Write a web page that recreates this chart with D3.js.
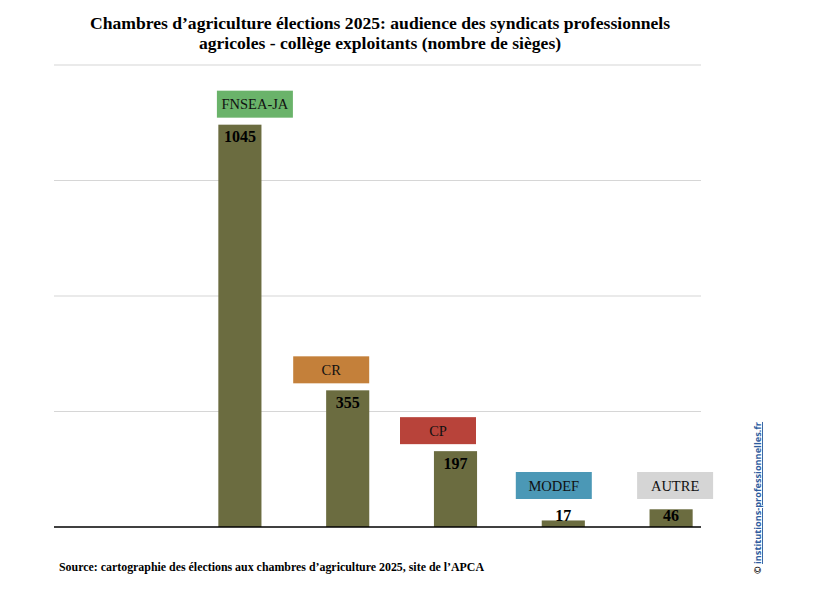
<!DOCTYPE html>
<html>
<head>
<meta charset="utf-8">
<script src="https://cdn.jsdelivr.net/npm/d3@7"></script>
<style>
  html, body { margin: 0; padding: 0; background: #fff; }
  svg { display: block; }
</style>
</head>
<body>
<svg id="chart" width="823" height="604"></svg>
<script>
// ---- data ----
const categories = ["FNSEA-JA", "CR", "CP", "MODEF", "AUTRE"];
const seats = [1045, 355, 197, 17, 46];
const yTicks = [0, 300, 600, 900, 1200];
const titleLines = [
  "Chambres d\u2019agriculture élections 2025: audience des syndicats professionnels",
  "agricoles - collège exploitants (nombre de sièges)"
];
const sourceText = "Source: cartographie des élections aux chambres d\u2019agriculture 2025, site de l\u2019APCA";

// ---- styling / layout ----
const labelColors = ["#6AB36A", "#C4803A", "#B8433A", "#4B98B6", "#D5D5D5"];
const labelShift = [15, -16.5, -17.5, -9.5, 4];
const barColor = "#6B6C40";
const serif = "'Liberation Serif', 'DejaVu Serif', serif";

const svg = d3.select("#chart");

const x = d3.scaleBand().domain(categories).range([186, 725]).paddingInner(0.6).paddingOuter(0.3);
const y = d3.scaleLinear().domain([0, 1200]).range([527, 65]);
const gridX0 = 54, gridX1 = 701;

// gridlines
svg.append("g").selectAll("line").data(yTicks.filter(d => d > 0)).join("line")
  .attr("x1", gridX0).attr("x2", gridX1)
  .attr("y1", d => y(d)).attr("y2", d => y(d))
  .attr("stroke", "#d6d6d6").attr("stroke-width", 1.2);

// bars
svg.append("g").selectAll("rect").data(seats).join("rect")
  .attr("x", (d, i) => x(categories[i]))
  .attr("width", x.bandwidth())
  .attr("y", d => y(d))
  .attr("height", d => y(0) - y(d))
  .attr("fill", barColor);

// baseline axis
svg.append("line")
  .attr("x1", gridX0).attr("x2", gridX1)
  .attr("y1", y(0)).attr("y2", y(0))
  .attr("stroke", "#000").attr("stroke-width", 1.6);

// value labels
svg.append("g").selectAll("text").data(seats).join("text")
  .attr("x", (d, i) => x(categories[i]) + x.bandwidth() / 2)
  .attr("y", d => Math.min(y(d) + 17.5, y(0) - 6))
  .attr("text-anchor", "middle")
  .attr("font-family", serif)
  .attr("font-weight", "bold")
  .attr("font-size", "16px")
  .attr("fill", "#000")
  .text(d => d);

// category label boxes
const boxW = 76, boxH = 27;
const lab = svg.append("g").selectAll("g").data(categories).join("g")
  .attr("transform", (c, i) => {
    const cx = x(c) + x.bandwidth() / 2 + labelShift[i];
    const bottom = Math.min(y(seats[i]) - 7, 499);
    return `translate(${cx - boxW / 2},${bottom - boxH})`;
  });
lab.append("rect")
  .attr("width", boxW).attr("height", boxH)
  .attr("fill", (c, i) => labelColors[i]);
lab.append("text")
  .attr("x", boxW / 2).attr("y", boxH / 2 + 5)
  .attr("text-anchor", "middle")
  .attr("font-family", serif)
  .attr("font-size", "14.5px")
  .attr("fill", "#111")
  .text(c => c);

// title
svg.append("g").selectAll("text").data(titleLines).join("text")
  .attr("x", 380)
  .attr("y", (d, i) => 29 + i * 20)
  .attr("text-anchor", "middle")
  .attr("font-family", serif)
  .attr("font-weight", "bold")
  .attr("font-size", "17.6px")
  .attr("fill", "#000")
  .text(d => d);

// source
svg.append("text")
  .attr("x", 59).attr("y", 571)
  .attr("font-family", serif)
  .attr("font-weight", "bold")
  .attr("font-size", "11.9px")
  .attr("fill", "#000")
  .text(sourceText);

// vertical credit
const cred = svg.append("text")
  .attr("transform", "translate(761,574) rotate(-90)")
  .attr("font-family", "'Open Sans', 'DejaVu Sans', sans-serif")
  .attr("font-weight", "bold")
  .attr("font-size", "9.2px");
cred.append("tspan").attr("fill", "#000").text("© ");
cred.append("tspan").attr("fill", "#2E5C9E").attr("text-decoration", "underline").text("institutions-professionnelles.fr");
</script>
</body>
</html>
